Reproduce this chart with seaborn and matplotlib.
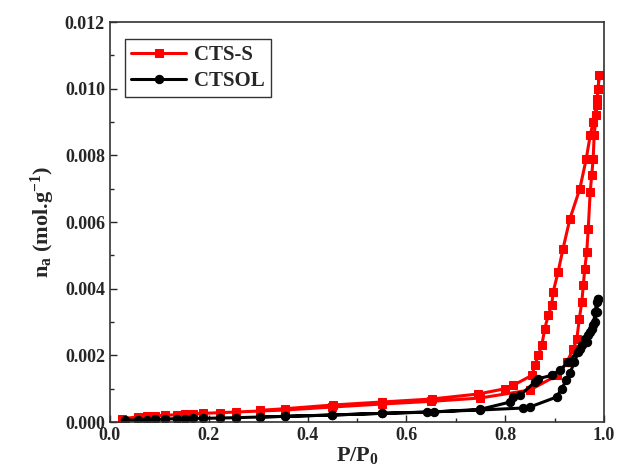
import matplotlib
matplotlib.use("Agg")
import matplotlib.pyplot as plt
from matplotlib.ticker import MultipleLocator
import pandas as pd
import seaborn as sns

# CTS-S: adsorption branch then desorption branch (P/P0, n_a in mol/g)
cts_s_ads_x = [0.024, 0.056, 0.076, 0.092, 0.112, 0.136, 0.152, 0.168, 0.188, 0.223, 0.255,
               0.303, 0.355, 0.45, 0.55, 0.65, 0.749, 0.85, 0.905, 0.925, 0.938, 0.945,
               0.95, 0.955, 0.958, 0.961, 0.965, 0.968, 0.972, 0.975, 0.978, 0.98, 0.984,
               0.986, 0.988, 0.99]
cts_s_ads_y = [0.0001, 0.00015, 0.00017, 0.00019, 0.0002, 0.00022, 0.00023, 0.00024, 0.00026,
               0.00028, 0.0003, 0.00033, 0.00036, 0.00045, 0.00054, 0.00062, 0.00072, 0.00096,
               0.0014, 0.0018, 0.0022, 0.0025, 0.0031, 0.0036, 0.0041, 0.0046, 0.0051, 0.0058,
               0.0069, 0.0074, 0.0079, 0.0086, 0.0092, 0.0097, 0.0100, 0.0104]
cts_s_des_x = [0.99, 0.988, 0.985, 0.978, 0.972, 0.964, 0.951, 0.931, 0.917, 0.907, 0.897,
               0.894, 0.887, 0.88, 0.874, 0.867, 0.86, 0.854, 0.816, 0.8, 0.745, 0.651,
               0.55, 0.451, 0.355, 0.303]
cts_s_des_y = [0.0104, 0.0100, 0.0095, 0.0090, 0.0086, 0.0079, 0.0070, 0.0061, 0.0052, 0.0045,
               0.0039, 0.0035, 0.0032, 0.0028, 0.0023, 0.0020, 0.0017, 0.0014, 0.0011, 0.0010,
               0.00084, 0.00069, 0.0006, 0.00051, 0.0004, 0.00035]

# CTSOL
ctsol_ads_x = [0.03, 0.056, 0.076, 0.092, 0.112, 0.136, 0.152, 0.168, 0.188, 0.223, 0.255,
               0.303, 0.355, 0.45, 0.55, 0.641, 0.749, 0.836, 0.85, 0.904, 0.914, 0.924,
               0.931, 0.94, 0.948, 0.955, 0.962, 0.968, 0.972, 0.978, 0.982, 0.985, 0.988]
ctsol_ads_y = [0.00005, 0.00006, 0.00007, 0.00008, 0.00009, 0.0001, 0.0001, 0.00011, 0.00011,
               0.00012, 0.00013, 0.00015, 0.00017, 0.00021, 0.00026, 0.0003, 0.00036, 0.00042,
               0.00045, 0.00075, 0.0010, 0.00126, 0.00147, 0.0018, 0.0021, 0.0023, 0.0025,
               0.0026, 0.0027, 0.0029, 0.0033, 0.0036, 0.0037]
ctsol_des_x = [0.988, 0.985, 0.982, 0.975, 0.965, 0.951, 0.928, 0.911, 0.894, 0.867, 0.86,
               0.83, 0.816, 0.81, 0.749, 0.655, 0.55, 0.45, 0.355, 0.303]
ctsol_des_y = [0.0037, 0.0033, 0.0030, 0.0028, 0.0024, 0.0022, 0.0018, 0.00156, 0.0014, 0.0013,
               0.0012, 0.0008, 0.00075, 0.0006, 0.00038, 0.0003, 0.00026, 0.00021, 0.00017,
               0.00015]

sns.set_theme(style="ticks")
plt.rcParams["font.family"] = ["Liberation Serif", "DejaVu Serif"]
plt.rcParams["font.weight"] = "bold"
plt.rcParams["mathtext.fontset"] = "custom"
plt.rcParams["mathtext.rm"] = "Liberation Serif:bold"
plt.rcParams["mathtext.it"] = "Liberation Serif:bold"
plt.rcParams["mathtext.bf"] = "Liberation Serif:bold"

series = [
    ("CTS-S", cts_s_ads_x + cts_s_des_x, cts_s_ads_y + cts_s_des_y, "#ff0000", "s"),
    ("CTSOL", ctsol_ads_x + ctsol_des_x, ctsol_ads_y + ctsol_des_y, "#000000", "o"),
]

fig = plt.figure(figsize=(6.17, 4.71), dpi=100)
ax = fig.add_axes([0.178, 0.104, 0.801, 0.849])

for name, xs, ys, colour, marker in series:
    df = pd.DataFrame({"p": xs, "n": ys})
    sns.lineplot(data=df, x="p", y="n", ax=ax, sort=False, estimator=None,
                 color=colour, marker=marker, markersize=6, markeredgecolor=colour,
                 linewidth=2.2, label=name)

ax.set_xlim(0.0, 1.0)
ax.set_ylim(0.0, 0.012)
ax.xaxis.set_major_locator(MultipleLocator(0.2))
ax.xaxis.set_minor_locator(MultipleLocator(0.1))
ax.yaxis.set_major_locator(MultipleLocator(0.002))
ax.yaxis.set_minor_locator(MultipleLocator(0.001))
ax.xaxis.set_major_formatter(matplotlib.ticker.FormatStrFormatter("%.1f"))
ax.yaxis.set_major_formatter(matplotlib.ticker.FormatStrFormatter("%.3f"))
ax.tick_params(which="both", direction="in", top=False, right=False, labelsize=13, width=1)
ax.tick_params(which="major", length=5)
ax.tick_params(which="minor", length=3)
for side in ax.spines.values():
    side.set_linewidth(1.2)
    side.set_color("#333333")

ax.set_xlabel("P/P$_0$", fontsize=16, fontweight="bold", labelpad=1)
ax.set_ylabel("n$_\\mathrm{a}$ (mol.g$^{-1}$)", fontsize=16, fontweight="bold", labelpad=6)

leg = ax.legend(loc="upper left", frameon=True, fancybox=False, fontsize=15,
                handlelength=2.6, borderpad=0.3, labelspacing=0.3, handletextpad=0.4,
                bbox_to_anchor=(0.01, 0.985))
leg.get_frame().set_edgecolor("black")
leg.get_frame().set_linewidth(1.0)
for t in leg.get_texts():
    t.set_fontweight("bold")

fig.savefig("out.png", dpi=100)
